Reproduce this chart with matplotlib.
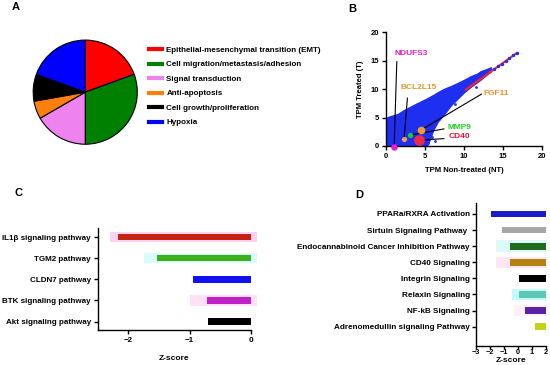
import numpy as np
import matplotlib
matplotlib.use("Agg")
import matplotlib.pyplot as plt
from matplotlib.lines import Line2D

plt.rcParams['font.family'] = ['Liberation Sans', 'DejaVu Sans']
plt.rcParams['font.weight'] = 'bold'
plt.rcParams['axes.labelweight'] = 'bold'
plt.rcParams['font.size'] = 5.5
plt.rcParams['axes.linewidth'] = 1.0

# A: pathway categories (counts)
pie_labels = ['Epithelial-mesenchymal transition (EMT)', 'Cell migration/metastasis/adhesion',
              'Signal transduction', 'Anti-apoptosis', 'Cell growth/proliferation', 'Hypoxia']
pie_counts = [7, 11, 6, 2, 3, 7]
pie_colors = ['#ff0000', '#008000', '#ee82ee', '#ff7f0e', '#000000', '#0000ff']

# B: outline of the dense gene cloud (TPM NT vs TPM T)
cloud_nt = [0, 0.5, 1.5, 2.3, 4.0, 5.2, 5.6, 6.0, 6.6, 7.4, 8.3, 9.1, 10.0, 10.8, 11.7, 12.1, 12.9, 13.4]
cloud_hi = [4.9, 5.2, 5.6, 6.3, 7.5, 8.3, 8.6, 8.9, 9.4, 10.0, 10.5, 11.0, 11.6, 12.2, 12.7, 13.1, 13.5, 13.8]
cloud_lo = [0, 0, 0, 0, 0, 0, 1.2, 2.8, 4.3, 5.6, 7.2, 8.3, 9.5, 10.4, 11.3, 11.7, 12.6, 13.1]
tail_nt = [13.8, 14.3, 14.8, 15.3, 15.8, 16.3, 16.7]
tail_t = [13.5, 14.0, 14.4, 14.9, 15.4, 15.9, 16.3]
stray_nt = [5.9, 7.0, 8.8, 5.4, 11.5, 6.3]
stray_t = [1.6, 5.9, 7.3, 0.5, 10.4, 0.9]
fit_nt = [10.2, 16.7]
fit_t = [9.9, 16.3]

gene_names = ['NDUFS3', 'BCL2L15', 'MMP9', 'FGF11', 'CD40']
gene_nt = [1.03, 2.3, 3.0, 4.45, 4.2]
gene_t = [-0.15, 1.3, 1.9, 2.8, 1.0]
gene_sizes = [22, 14, 14, 30, 60]
gene_colors = ['#e81ec8', '#f0a040', '#22cc22', '#f59a30', '#f02848']
text_colors = ['#e020c8', '#dc9a30', '#20d020', '#f09030', '#f01030']
label_nt = [1.1, 1.9, 7.8, 12.5, 8.0]
label_t = [16.3, 10.2, 3.2, 9.3, 1.6]
line_nt = [1.37, 2.73, 7.4, 12.2, 7.4]
line_t = [14.8, 8.4, 3.0, 9.1, 1.3]

# C
c_paths = ['IL1β signaling pathway', 'TGM2 pathway', 'CLDN7 pathway',
           'BTK signaling pathway', 'Akt signaling pathway']
c_z = [-2.17, -1.54, -0.94, -0.72, -0.70]
c_colors = ['#c42212', '#3cb01c', '#1010f0', '#c020c8', '#000000']
c_glow = ['#ffd2f2', '#d8fbfb', None, '#ffe2f6', None]
c_glow_left = [-2.3, -1.75, 0, -1.0, 0]

# D
d_paths = ['PPARa/RXRA Activation', 'Sirtuin Signaling Pathway ', 'Endocannabinoid Cancer Inhibition Pathway',
           'CD40 Signaling', 'Integrin Signaling', 'Relaxin Signaling', 'NF-kB Signaling',
           'Adrenomedullin signaling Pathway']
d_z = [-1.9, -1.15, -0.55, -0.55, 0.1, 0.1, 0.5, 1.2]
d_colors = ['#1c1cc8', '#a6a6a6', '#236b1c', '#b5820e', '#000000', '#5cc8b4', '#5a22a8', '#c2d41a']
d_glow = [None, None, '#dcfafa', '#ffe6f4', None, '#c4fafa', '#fff0fa', None]
d_glow_left = [0, 0, -1.55, -1.55, 0, -0.45, -0.3, 0]

fig = plt.figure(figsize=(5.5, 3.65), dpi=100)

# ---------- A ----------
axA = fig.add_axes([0.058, 0.602, 0.194, 0.291])
axA.pie(pie_counts, colors=pie_colors, startangle=90, counterclock=False,
        wedgeprops=dict(edgecolor='black', linewidth=0.8))
axA.set_xlim(-1.02, 1.02)
axA.set_ylim(-1.02, 1.02)
axA.set_aspect('equal')
handles = [Line2D([0], [0], color=c, lw=3) for c in pie_colors]
fig.legend(handles, pie_labels, loc='upper left', bbox_to_anchor=(0.258, 0.893),
           frameon=False, handlelength=1.6, handletextpad=0.55, labelspacing=0.85,
           prop=dict(size=5.8, weight='bold'))
fig.text(0.022, 0.98, 'A', fontsize=8, fontweight='bold', va='center')

# ---------- B ----------
axB = fig.add_axes([0.702, 0.6, 0.284, 0.312])
axB.plot(fit_nt, fit_t, color='#ff2020', lw=1.5, zorder=2)
axB.fill_between(cloud_nt, cloud_lo, cloud_hi, color='#1f2ff0', lw=1.2, edgecolor='#1f2ff0', zorder=1)
axB.scatter(tail_nt, tail_t, s=6, color='#1f2ff0', zorder=3, lw=0)
axB.scatter(stray_nt, stray_t, s=4, color='#1f2ff0', zorder=3, lw=0)
for i, g in enumerate(gene_names):
    axB.plot([line_nt[i], gene_nt[i]], [line_t[i], gene_t[i]], color='black', lw=0.8, zorder=4)
    axB.scatter(gene_nt[i], gene_t[i], s=gene_sizes[i], color=gene_colors[i], zorder=5,
                lw=0, clip_on=False)
    axB.text(label_nt[i], label_t[i], g, color=text_colors[i], fontsize=6, fontweight='bold',
             va='center', ha='left')
axB.set_xlim(0, 20)
axB.set_ylim(0, 20)
axB.set_xticks([0, 5, 10, 15, 20])
axB.set_yticks([0, 5, 10, 15, 20])
axB.spines['top'].set_visible(False)
axB.spines['right'].set_visible(False)
axB.tick_params(length=3, width=1, labelsize=5.5, pad=2)
axB.set_xlabel('TPM Non-treated (NT)', fontsize=5.5, labelpad=5)
axB.set_ylabel('TPM Treated (T)', fontsize=5.5, labelpad=5)
fig.text(0.633, 0.975, 'B', fontsize=8, fontweight='bold', va='center')

# ---------- C ----------
axC = fig.add_axes([0.178, 0.096, 0.278, 0.279])
yc = np.arange(len(c_paths))[::-1]
for i in range(len(c_paths)):
    if c_glow[i]:
        axC.barh(yc[i], 0.1 - c_glow_left[i], left=c_glow_left[i], height=0.48,
                 color=c_glow[i], lw=0, clip_on=False, zorder=1)
axC.barh(yc, c_z, height=0.3, color=c_colors, lw=0, zorder=2)
axC.set_yticks(yc)
axC.set_yticklabels(c_paths)
axC.set_xlim(-2.5, 0)
axC.set_ylim(-0.4, 4.43)
axC.set_xticks([-2, -1, 0])
axC.spines['top'].set_visible(False)
axC.spines['right'].set_visible(False)
axC.tick_params(length=3, width=1, labelsize=5.8, pad=2)
axC.set_xlabel('Z-score', fontsize=6, labelpad=8)
fig.text(0.027, 0.47, 'C', fontsize=8, fontweight='bold', va='center')

# ---------- D ----------
axD = fig.add_axes([0.8655, 0.0520, 0.127, 0.392])
yd = np.arange(len(d_paths))[::-1]
for i in range(len(d_paths)):
    if d_glow[i]:
        axD.barh(yd[i], 2 - d_glow_left[i], left=d_glow_left[i], height=0.7,
                 color=d_glow[i], lw=0, zorder=1)
axD.barh(yd, [2 - z for z in d_z], left=d_z, height=0.42, color=d_colors, lw=0, zorder=2)
axD.set_yticks(yd)
axD.set_yticklabels(d_paths)
axD.set_xlim(-3, 2)
axD.set_ylim(-1.2, 7.68)
axD.set_xticks([-3, -2, -1, 0, 1, 2])
axD.spines['top'].set_visible(False)
axD.spines['right'].set_visible(False)
axD.tick_params(axis='y', length=3, width=1, labelsize=5.9, pad=1.5)
axD.tick_params(axis='x', length=2, width=1, labelsize=5.3, pad=0.5)
axD.set_xlabel('Z-score', fontsize=6)
axD.xaxis.set_label_coords(0.5, -0.1)
axD.xaxis.label.set_va('center')
fig.text(0.645, 0.465, 'D', fontsize=8, fontweight='bold', va='center')

fig.savefig('out.png', dpi=100)
